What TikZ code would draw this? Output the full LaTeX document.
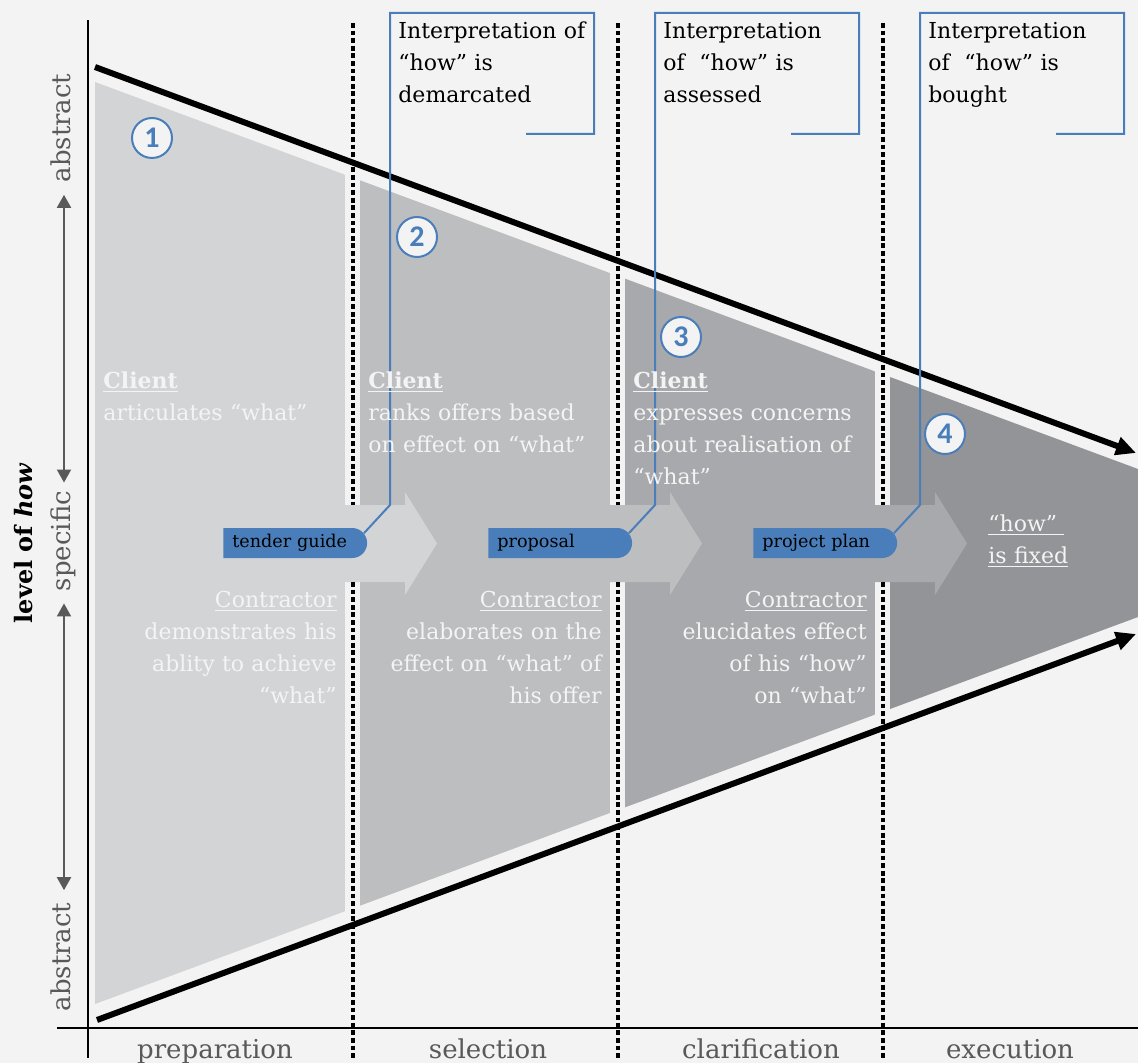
\documentclass[tikz,border=0pt]{standalone}
\usepackage{fontspec}
\setmainfont{DejaVu Serif}
\newfontfamily\numfont{Carlito}
\usetikzlibrary{shapes.misc,arrows.meta}
\definecolor{bgcol}{HTML}{F3F3F3}
\definecolor{phaseA}{HTML}{D3D4D6}
\definecolor{phaseB}{HTML}{BDBEC0}
\definecolor{phaseC}{HTML}{A8A9AC}
\definecolor{phaseD}{HTML}{939497}
\definecolor{docblue}{HTML}{4A7EBB}
\definecolor{axisgray}{HTML}{595959}
\definecolor{inkwhite}{HTML}{F4F4F4}

\tikzset{
  phasetext/.style={text=inkwhite, inner sep=0pt, text width=120pt, font=\fontsize{11}{16}\selectfont},
  docbox/.style={rounded rectangle, rounded rectangle west arc=none, fill=docblue,
    minimum height=15pt, inner xsep=4.5pt, inner ysep=0pt, text width=61.5pt,
    align=left, anchor=west, font=\fontsize{8.8}{10}\selectfont},
  callout/.style={draw=docblue, line width=1pt},
  calltext/.style={anchor=base west, inner sep=0pt, text width=100pt, align=left,
    font=\fontsize{11}{16}\selectfont},
  stepnum/.style={circle, draw=docblue, fill=bgcol, line width=1pt, minimum size=20pt,
    inner sep=0pt, text=docblue, font=\numfont\bfseries\fontsize{15}{15}\selectfont},
  phaseline/.style={line width=2pt, dash pattern=on 2.4pt off 1.4pt},
  bound/.style={line width=3pt, -{Triangle[length=10pt,width=9pt]}},
  axislabel/.style={text=axisgray, inner sep=0pt, text height=9pt, text depth=2.5pt,
    font=\fontsize{13}{13}\selectfont},
  levelarrow/.style={draw=axisgray, line width=1pt,
    {Triangle[length=6.5pt,width=7pt]}-{Triangle[length=6.5pt,width=7pt]}},
}

\begin{document}
\begin{tikzpicture}[x=0.5pt,y=-0.5pt]
\fill[bgcol] (0,0) rectangle (1138,1063);
\useasboundingbox (0,0) rectangle (1138,1063);

% the four phases, cut to the funnel
\begin{scope}
\clip (95,82) -- (1138,469) -- (1138,617) -- (95,1004) -- cycle;
\fill[phaseA] (95,0) rectangle (345,1063);
\fill[phaseB] (360,0) rectangle (610,1063);
\fill[phaseC] (625,0) rectangle (875,1063);
\fill[phaseD] (890,0) rectangle (1138,1063);
\end{scope}

% hand-over arrows between the phases
\foreach \xr/\col in {345/phaseA, 610/phaseB, 875/phaseC}
  \fill[\col] (\xr,505) -- (\xr+60,505) -- (\xr+60,492) -- (\xr+92,543.5)
    -- (\xr+60,595) -- (\xr+60,582) -- (\xr,582) -- cycle;

% phase borders
\foreach \x in {352.5,617.5,882.5} {
  \draw[phaseline] (\x,23) -- (\x,505);
  \draw[phaseline] (\x,582) -- (\x,1058);
}

% axes
\draw[line width=1pt] (88,20) -- (88,1058);
\draw[line width=1pt] (57,1028) -- (1138,1028);

% funnel edges
\coordinate (topstart) at (95,67);
\coordinate (topend) at (1136,453);
\coordinate (botstart) at (97,1020);
\coordinate (botend) at (1136,634);
\draw[bound] (topstart) -- (topend);
\draw[bound] (botstart) -- (botend);

% documents
\node[docbox] (tg) at (223,543) {tender guide};
\node[docbox] (pr) at (488,543) {proposal};
\node[docbox] (pp) at (753,543) {project plan};

% what the client does with each document
\foreach \xr/\b in {345/tg, 610/pr, 875/pp}
  \draw[callout] (\b.8) -- (\xr+45,505) -- (\xr+45,13) -- (\xr+249,13)
    -- (\xr+249,134) -- (\xr+181,134);
\node[calltext] (inter1) at (398,39) {Interpretation of\\“how” is\\demarcated};
\node[calltext] (inter2) at (663,39) {Interpretation\\of~ “how” is\\assessed};
\node[calltext] (inter3) at (928,39) {Interpretation\\of~ “how” is\\bought};

% steps
\foreach \n/\x/\y in {1/152/138, 2/417/237, 3/681/337, 4/945/434}
  \node[stepnum] (step\n) at (\x,\y) {\n};

% roles per phase
\node[phasetext, anchor=base west, align=left] (client1) at (103,388)
  {\textbf{\underline{Client}}\\articulates “what”};
\node[phasetext, anchor=base west, align=left] (client2) at (368,388)
  {\textbf{\underline{Client}}\\ranks offers based\\on effect on “what”};
\node[phasetext, anchor=base west, align=left] (client3) at (633,388)
  {\textbf{\underline{Client}}\\expresses concerns\\about realisation of\\“what”};
\node[phasetext, anchor=base east, align=right] (contr1) at (337,607)
  {\underline{Contractor}\\demonstrates his\\ablity to achieve\\“what”};
\node[phasetext, anchor=base east, align=right] (contr2) at (602,607)
  {\underline{Contractor}\\elaborates on the\\effect on “what” of\\his offer};
\node[phasetext, anchor=base east, align=right] (contr3) at (867,607)
  {\underline{Contractor}\\elucidates effect\\of his “how”\\on “what”};
\node[phasetext, anchor=base west, align=left] (fixed) at (988,531)
  {\underline{“how”\ }\\\underline{is fixed}};

% level of how
\node[axislabel, rotate=90] (abstop) at (64,128) {abstract};
\node[axislabel, rotate=90] (spec) at (64,541) {specific};
\node[axislabel, rotate=90] (absbot) at (64,957) {abstract};
\draw[levelarrow] ([yshift=-6pt]abstop.west) -- ([yshift=4pt]spec.east);
\draw[levelarrow] ([yshift=-6pt]spec.west) -- ([yshift=6pt]absbot.east);
\node[rotate=90, inner sep=0pt, font=\bfseries\fontsize{12}{12}\selectfont] (level)
  at (24,543) {level of \textit{how}};

% phases
\node[text=axisgray, anchor=base, inner sep=0pt, font=\fontsize{13}{13}\selectfont] (prep) at (215,1058) {preparation};
\node[text=axisgray, anchor=base, inner sep=0pt, font=\fontsize{13}{13}\selectfont] (sel) at (488,1058) {selection};
\node[text=axisgray, anchor=base, inner sep=0pt, font=\fontsize{13}{13}\selectfont] (clar) at (761,1058) {clarification};
\node[text=axisgray, anchor=base, inner sep=0pt, font=\fontsize{13}{13}\selectfont] (exec) at (1010,1058) {execution};
\end{tikzpicture}
\end{document}
